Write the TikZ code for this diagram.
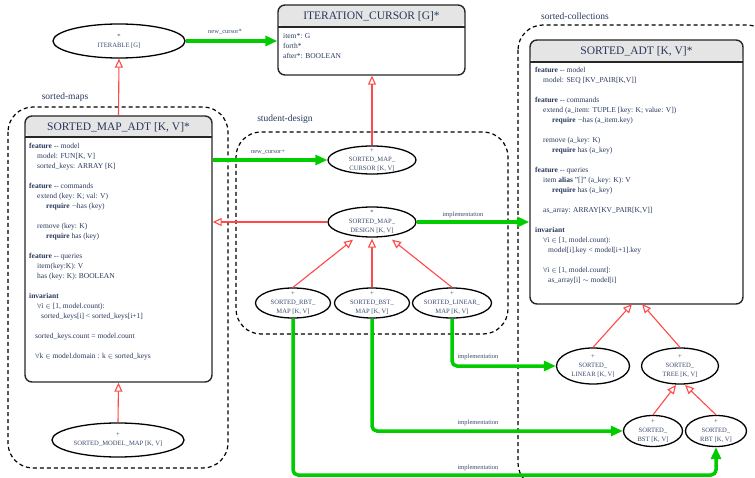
\documentclass[tikz,border=0pt]{standalone}
\usepackage{fontspec}
\setmainfont{Liberation Serif}
\usetikzlibrary{arrows.meta,shapes.geometric}
\definecolor{txt}{RGB}{40,55,90}
\definecolor{etxt}{RGB}{60,75,110}
\definecolor{grn}{RGB}{0,204,0}
\definecolor{inhred}{RGB}{255,72,72}
\definecolor{hdr}{RGB}{229,229,229}
\newcommand{\myfs}[2]{\fontsize{#1}{#2}\selectfont}
\newcommand{\ind}[1]{\hspace*{#1pt}}
\tikzset{
  ell/.style={draw=black, line width=1.3pt, ellipse, inner sep=0pt, fill=white},
  elltext/.style={font=\myfs{6.6}{9}, text=etxt, align=center, inner sep=0pt},
  classbox/.style={draw=black!85, line width=1.4pt, rounded corners=7pt, rectangle, inner sep=0pt,
    path picture={\fill[hdr] (path picture bounding box.north west) rectangle ([yshift=-#1]path picture bounding box.north east);
      \draw[line width=1.4pt, black!85] ([yshift=-#1]path picture bounding box.north west) -- ([yshift=-#1]path picture bounding box.north east);}},
  title/.style={font=\myfs{11.5}{13}, text=txt, inner sep=0pt},
  body/.style={font=\myfs{7.5}{10}, text=txt, align=left, inner sep=0pt, anchor=north west},
  inh/.style={draw=inhred, line width=1.1pt, -{Triangle[open, length=9pt, width=8pt, fill=white]}},
  impl/.style={draw=grn, line width=3.5pt, -{Triangle[length=12pt, width=10pt]}, rounded corners=5pt},
  lbl/.style={font=\myfs{6.5}{8}, text=etxt, inner sep=0pt},
  clus/.style={draw=black, line width=1.2pt, dash pattern=on 4pt off 3pt, rounded corners=25pt},
  cluslbl/.style={font=\myfs{9.5}{11}, text=txt, inner sep=0pt},
}
\begin{document}
\begin{tikzpicture}[x=1pt, y=-1pt]
\useasboundingbox (0,0) rectangle (755,478);
\clip (0,0) rectangle (755,478);

% clusters
\draw[clus] (8,107) rectangle (228,468);
\draw[clus] (236,132) rectangle (508,334);
\draw[clus] (518,25) rectangle (772,488);
\node[cluslbl] (lblmaps) at (65,97) {sorted-maps};
\node[cluslbl] (lbldesign) at (285,119) {student-design};
\node[cluslbl] (lblcoll) at (575,16) {sorted-collections};

% ITERABLE
\node[ell, minimum width=132, minimum height=34] (iter) at (119,41) {};
\node[elltext] (iter-t) at (iter) {*\\ITERABLE [G]};

% ITERATION_CURSOR
\node[classbox=22pt, minimum width=187, minimum height=70] (ic) at (371.5,40) {};
\node[title] (ic-title) at (371.5,16) {ITERATION\_CURSOR [G]*};
\node[body] (ic-body) at (283,33.5) {item*: G\\forth*\\after*: BOOLEAN};

% SORTED_MAP_ADT
\node[classbox=21pt, minimum width=187, minimum height=266] (smadt) at (118.5,249) {};
\node[title] (smadt-title) at (118.5,127) {SORTED\_MAP\_ADT [K, V]*};
\node[body] (smadt-body) at (29,143.5) {%
\textbf{feature} -{}- model\\
\ind{8}model: FUN[K, V]\\
\ind{8}sorted\_keys: ARRAY [K]\\[10pt]
\textbf{feature} -{}- commands\\
\ind{8}extend (key: K; val: V)\\
\ind{17}\textbf{require} $\neg$has (key)\\[10pt]
\ind{8}remove (key: K)\\
\ind{17}\textbf{require} has (key)\\[10pt]
\textbf{feature} -{}- queries\\
\ind{8}item(key:K): V\\
\ind{8}has (key: K): BOOLEAN\\[10pt]
\textbf{invariant}\\
\ind{8}$\forall$i $\in$ [1, model.count):\\
\ind{12}sorted\_keys[i] {<} sorted\_keys[i+1]\\[10pt]
\ind{6}sorted\_keys.count = model.count\\[10pt]
\ind{6}$\forall$k $\in$ model.domain : k $\in$ sorted\_keys};

% SORTED_MODEL_MAP
\node[ell, minimum width=132, minimum height=34] (smm) at (118,440) {};
\node[elltext] (smm-t) at (smm) {+\\SORTED\_MODEL\_MAP [K, V]};

% student-design
\node[ell, minimum width=88, minimum height=28] (smc) at (372,160) {};
\node[elltext] (smc-t) at (smc) {+\\SORTED\_MAP\_\\CURSOR [K, V]};
\node[ell, minimum width=88, minimum height=30] (smd) at (372,222) {};
\node[elltext] (smd-t) at (smd) {*\\SORTED\_MAP\_\\DESIGN [K, V]};
\node[ell, minimum width=75, minimum height=30] (rbtm) at (293,303) {};
\node[elltext] (rbtm-t) at (rbtm) {+\\SORTED\_RBT\_\\MAP [K, V]};
\node[ell, minimum width=75, minimum height=30] (bstm) at (372,303) {};
\node[elltext] (bstm-t) at (bstm) {+\\SORTED\_BST\_\\MAP [K, V]};
\node[ell, minimum width=79, minimum height=30] (linm) at (452,303) {};
\node[elltext] (linm-t) at (linm) {+\\SORTED\_LINEAR\_\\MAP [K, V]};

% SORTED_ADT
\node[classbox=22pt, minimum width=213, minimum height=264] (sadt) at (636.5,172) {};
\node[title] (sadt-title) at (636.5,51) {SORTED\_ADT [K, V]*};
\node[body] (sadt-body) at (535,67.5) {%
\textbf{feature} -{}- model\\
\ind{8}model: SEQ [KV\_PAIR[K,V]]\\[10pt]
\textbf{feature} -{}- commands\\
\ind{8}extend (a\_item: TUPLE [key: K; value: V])\\
\ind{17}\textbf{require} $\neg$has (a\_item.key)\\[10pt]
\ind{8}remove (a\_key: K)\\
\ind{17}\textbf{require} has (a\_key)\\[10pt]
\textbf{feature} -{}- queries\\
\ind{8}item \textbf{alias} "[]" (a\_key: K): V\\
\ind{17}\textbf{require} has (a\_key)\\[10pt]
\ind{8}as\_array: ARRAY[KV\_PAIR[K,V]]\\[10pt]
\textbf{invariant}\\
\ind{8}$\forall$i $\in$ [1, model.count):\\
\ind{13}model[i].key {<} model[i+1].key\\[10pt]
\ind{8}$\forall$i $\in$ [1, model.count]:\\
\ind{13}as\_array[i] $\sim$ model[i]};

\node[ell, minimum width=73, minimum height=36] (slin) at (593,366) {};
\node[elltext] (slin-t) at (slin) {+\\SORTED\_\\LINEAR [K, V]};
\node[ell, minimum width=77, minimum height=36] (stree) at (680,366) {};
\node[elltext] (stree-t) at (stree) {+\\SORTED\_\\TREE [K, V]};
\node[ell, minimum width=59, minimum height=31] (sbst) at (653,431) {};
\node[elltext] (sbst-t) at (sbst) {+\\SORTED\_\\BST [K, V]};
\node[ell, minimum width=61, minimum height=31] (srbt) at (716,431) {};
\node[elltext] (srbt-t) at (srbt) {+\\SORTED\_\\RBT [K, V]};

% inheritance edges
\draw[inh] (smadt.north) -- (iter.south);
\draw[inh] (smm.north) -- (smadt.south);
\draw[inh] (smc.north) -- (smc.north |- ic.south);
\draw[inh] (smd.west) -- (smadt.east |- smd.west);
\draw[inh] (rbtm.north) -- ([xshift=-19pt,yshift=-2pt]smd.south);
\draw[inh] (bstm.north) -- ([yshift=-1pt]smd.south);
\draw[inh] (linm.north) -- ([xshift=20pt,yshift=-2pt]smd.south);
\coordinate (adtL) at (632,304);
\coordinate (adtR) at (642,304);
\draw[inh] (slin.north) -- (adtL);
\draw[inh] (stree.north) -- (adtR);
\coordinate (trL) at (676,385);
\coordinate (trR) at (685,385);
\draw[inh] (sbst.north) -- (trL);
\draw[inh] (srbt.north) -- (trR);

% implementation / client edges
\draw[impl] (iter.east) -- (ic.west |- iter.east);
\node[lbl] (l1) at (225,32) {new\_cursor*};
\draw[impl] (smadt.east |- smc.west) -- (smc.west);
\node[lbl] (l2) at (268,152) {new\_cursor+};
\draw[impl] (smd.east) -- (sadt.west |- smd.east);
\node[lbl] (l3) at (463,215) {implementation};
\draw[impl] (linm.south) |- (slin.west);
\node[lbl] (l4) at (478,357) {implementation};
\draw[impl] (bstm.south) |- (sbst.west);
\node[lbl] (l5) at (478,423) {implementation};
\coordinate (bend) at (0,475);
\draw[impl] (rbtm.south) -- (rbtm.south |- bend) -- (srbt.south |- bend) -- (srbt.south);
\node[lbl] (l6) at (478,468) {implementation};
\end{tikzpicture}
\end{document}
